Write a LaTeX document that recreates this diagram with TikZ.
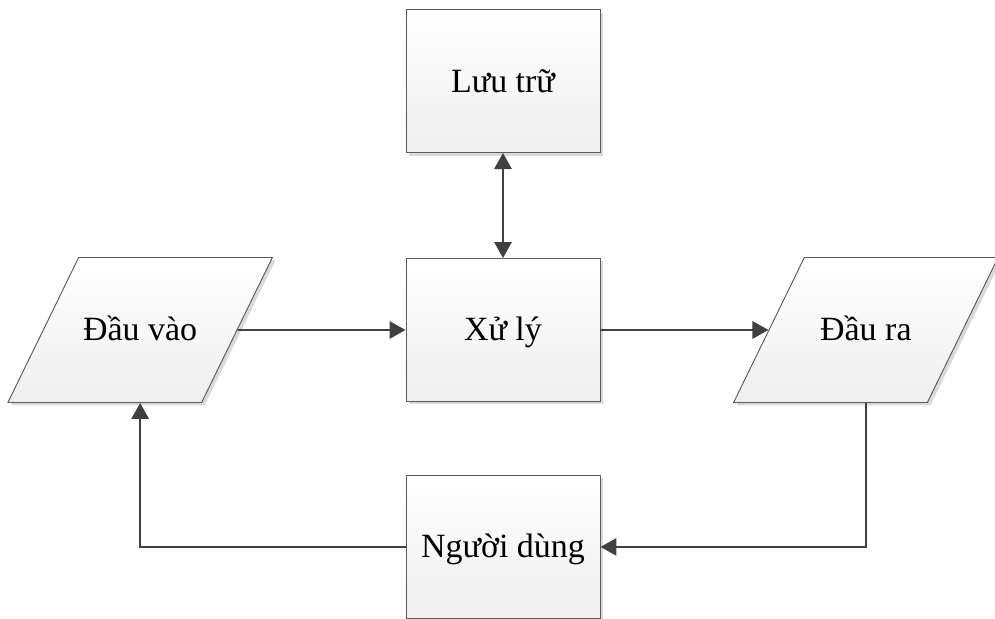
\documentclass[tikz,border=0pt]{standalone}
\usepackage{fontspec}
\setmainfont{Liberation Serif}
\usepackage{tikz}
\usetikzlibrary{shapes.geometric}
\usetikzlibrary{positioning}
\usetikzlibrary{shadows}
\usetikzlibrary{arrows.meta}
\definecolor{linegray}{HTML}{404040}
\definecolor{bordergray}{HTML}{5A5A5A}
\definecolor{shadowgray}{HTML}{D9D9D9}
\definecolor{fillgray}{HTML}{EFEFEF}
\tikzstyle{block} = [rectangle,draw=bordergray,line width=0.8pt,top color=white,bottom color=fillgray,
  drop shadow={shadow xshift=0.09cm,shadow yshift=-0.09cm,fill=shadowgray,opacity=1},
  minimum width=5.82cm,minimum height=4.29cm,inner sep=0pt,text height=0.8cm,text depth=0.14cm]
\tikzstyle{io} = [trapezium,trapezium left angle=64,trapezium right angle=116,
  draw=bordergray,line width=0.8pt,top color=white,bottom color=fillgray,
  drop shadow={shadow xshift=0.09cm,shadow yshift=-0.09cm,fill=shadowgray,opacity=1},
  text width=3.69cm,align=flush center,inner xsep=0pt,inner ysep=1.705cm,text height=0.8cm,text depth=0.14cm]

\begin{document}
\begin{tikzpicture}[font=\fontsize{29}{34}\selectfont,node distance=1cm]

	\tikzstyle{arrow}=[-{Triangle[length=0.48cm,width=0.52cm]},draw=linegray,line width=1.7pt];
	\tikzstyle{twoway}=[{Triangle[length=0.48cm,width=0.52cm]}-{Triangle[length=0.48cm,width=0.52cm]},draw=linegray,line width=1.7pt];

	\useasboundingbox (-15.09,-8.67) rectangle (14.76,9.9);

	\node (1) [block] {Xử lý};
	\node (2) [block,above=of 1,yshift=2.15cm] {Lưu trữ};
	\node (3) [block,below=of 1,yshift=-1.19cm] {Người dùng};
	\node (4) [io,left=of 1,xshift=-4.04cm] {Đầu vào};
	\node (5) [io,right=of 1,xshift=4.04cm] {Đầu ra};

	\draw[twoway] (2) -- (1);
	\draw[arrow] (4) -- (1);
	\draw[arrow] (1) -- (5);
	\draw[arrow] (5.south) |- (3.east);
	\draw[arrow] (3.west) -| (4.south);
\end{tikzpicture}
\end{document}
